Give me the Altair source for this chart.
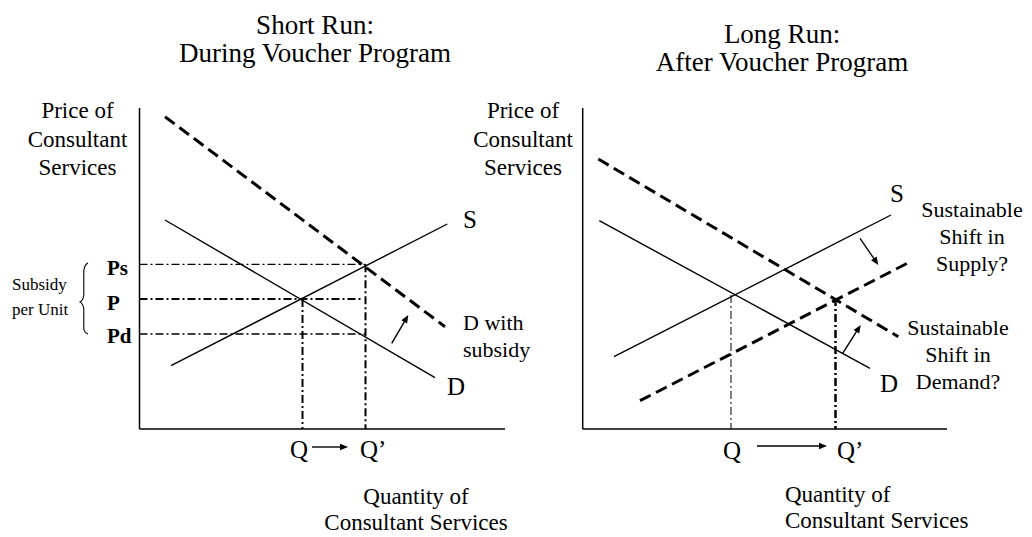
import altair as alt
import pandas as pd
import numpy as np

# ---------------- data (diagram coordinates) ----------------
# axes (x1, y1, x2, y2)
axes_seg = [(139.5, 108, 139.5, 429), (139.5, 429, 505, 429),
            (582.7, 108, 582.7, 429), (582.7, 429, 947, 429)]
# solid curves
solid_seg = [(165, 220, 435, 377.7),      # D short run
             (171, 365.7, 447.3, 224),    # S short run
             (599.3, 220.7, 870, 368.3),  # D long run
             (614, 356.7, 891, 215)]      # S long run
# dashed curves
dashed_seg = [(165, 116.7, 445, 326.7),    # D with subsidy
              (598.3, 159, 898.3, 336.7),  # shifted demand
              (640, 400.7, 911.7, 261)]    # shifted supply
# dash-dot guides: (x1, y1, x2, y2, width)
guide_seg = [(139.5, 264.3, 365.5, 264.3, 1.2),   # Ps
             (139.5, 299, 363, 299, 2.0),         # P
             (139.5, 334, 365.5, 334, 1.5),       # Pd
             (302.5, 299, 302.5, 429, 2.0),       # Q
             (365.5, 264.3, 365.5, 429, 2.0),     # Q'
             (731, 295, 731, 429, 1.0),           # Q long run
             (835.5, 298, 835.5, 429, 2.5)]       # Q' long run
# arrows (start x, start y, tip x, tip y)
arrows = [(391.7, 343.3, 408.3, 315),
          (312, 447, 348, 447),
          (860, 238.3, 878.3, 265),
          (842.7, 353.3, 860.7, 325),
          (757, 446, 827, 446)]
# brace
brace_x = [88, 85, 83.8, 83.8, 82.5, 79.5, 82.5, 83.8, 83.8, 85, 88]
brace_y = [263, 266, 271, 295, 299.5, 302, 304.5, 309, 329, 332, 334]

# text labels
titles = [("Short Run:\nDuring Voucher Program", 315, 33.5),
          ("Long Run:\nAfter Voucher Program", 782, 42.5)]
axis_price = [("Price of\nConsultant\nServices", 77.5, 118),
              ("Price of\nConsultant\nServices", 523, 118)]
axis_qty_center = [("Quantity of\nConsultant Services", 416, 504)]
axis_qty_left = [("Quantity of\nConsultant Services", 785, 502)]
note_center = [("Sustainable\nShift in\nSupply?", 972, 217),
               ("Sustainable\nShift in\nDemand?", 958, 335)]
note_left = [("D with\nsubsidy", 463, 330)]
small_left = [("Subsidy\nper Unit", 12, 290)]
bold_left = [("Ps", 107, 275), ("P", 107, 310), ("Pd", 107, 343)]
curve_labels = [("S", 463, 228), ("D", 447, 395), ("S", 890, 202), ("D", 880, 392),
                ("Q", 290, 458), ("Q\u2019", 360, 458), ("Q", 723, 459), ("Q\u2019", 837, 459)]

FONT = "Liberation Serif"

X = alt.X("x:Q", scale=alt.Scale(domain=[8, 1024], nice=False, zero=False), axis=None)
Y = alt.Y("y:Q", scale=alt.Scale(domain=[8, 537], nice=False, zero=False, reverse=True), axis=None)


def seg_df(rows):
    return pd.DataFrame([r[:4] for r in rows], columns=["x", "y", "x2", "y2"])


def rule_layer(rows, width, dash=None):
    kw = dict(color="black", strokeWidth=width)
    if dash is not None:
        kw["strokeDash"] = dash
    return alt.Chart(seg_df(rows)).mark_rule(**kw).encode(x=X, y=Y, x2="x2:Q", y2="y2:Q")


def text_layer(rows, size, align, lh, weight="normal"):
    df = pd.DataFrame(rows, columns=["t", "x", "y"])
    return alt.Chart(df).mark_text(font=FONT, fontSize=size, align=align, baseline="alphabetic",
                                   fontWeight=weight, color="black", lineBreak="\n",
                                   lineHeight=lh).encode(x=X, y=Y, text="t:N")


layers = []
layers.append(rule_layer(axes_seg, 1.5))
layers.append(rule_layer(solid_seg, 1.4))
layers.append(rule_layer(dashed_seg, 3.0, [12, 6]))
for g in guide_seg:
    layers.append(rule_layer([g], g[4], [8, 3, 2, 3]))

# arrow shafts and heads
arr = np.array(arrows, dtype=float)
dx = arr[:, 2] - arr[:, 0]
dy = arr[:, 3] - arr[:, 1]
ang = np.mod(np.degrees(np.arctan2(dx, -dy)), 360)
L = np.hypot(dx, dy)
shaft = [(a[0], a[1], a[2] - 5 * ddx / l, a[3] - 5 * ddy / l) for a, ddx, ddy, l in zip(arr, dx, dy, L)]
layers.append(rule_layer(shaft, 1.4))
heads = pd.DataFrame({"x": arr[:, 2], "y": arr[:, 3], "a": ang})
layers.append(alt.Chart(heads).mark_point(shape="M0,0L0.42,1L-0.42,1Z", filled=True, size=256,
                                          color="black", opacity=1, strokeWidth=0)
              .encode(x=X, y=Y, angle=alt.Angle("a:Q", scale=None)))

# brace
brace = pd.DataFrame({"x": brace_x, "y": brace_y, "o": range(len(brace_x))})
layers.append(alt.Chart(brace).mark_line(color="black", strokeWidth=1.1, interpolate="monotone")
              .encode(x=X, y=Y, order="o:Q"))

layers.append(text_layer(titles, 27, "center", 28))
layers.append(text_layer(axis_price, 23, "center", 28.5))
layers.append(text_layer(axis_qty_center, 23, "center", 26))
layers.append(text_layer(axis_qty_left, 23, "left", 26))
layers.append(text_layer(note_center, 22, "center", 27))
layers.append(text_layer(note_left, 22, "left", 27))
layers.append(text_layer(small_left, 17, "left", 25))
layers.append(text_layer(bold_left, 21, "left", 21, "bold"))
layers.append(text_layer(curve_labels, 25, "left", 25))

chart = alt.layer(*layers).properties(
    width=1016, height=529, padding=0, background="white",
    autosize=alt.AutoSizeParams(type="none")
).configure_view(stroke=None)

chart.save("out.html", embed_options={"renderer": "svg", "actions": False})
